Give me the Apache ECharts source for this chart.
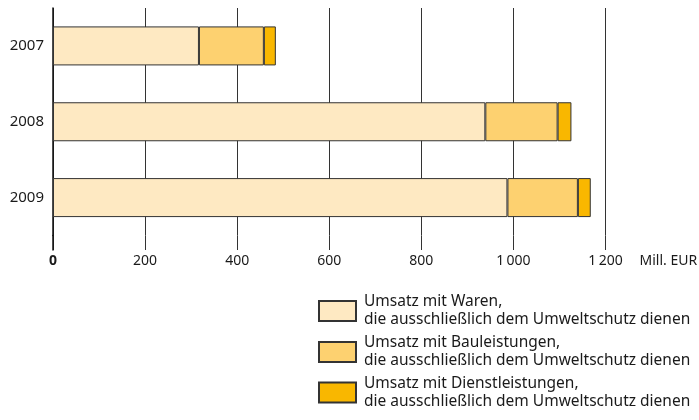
<!DOCTYPE html>
<html>
<head>
<meta charset="utf-8">
<script src="https://cdn.jsdelivr.net/npm/echarts@6/dist/echarts.min.js"></script>
<style>
  html, body { margin: 0; padding: 0; background: #fff; }
  #chart { width: 699px; height: 420px; }
</style>
</head>
<body>
<div id="chart"></div>
<script>
// Umsatz mit Umweltschutzgütern und -leistungen, Mill. EUR
const years = ['2007', '2008', '2009'];
const waren = [317, 939, 987];
const bauleistungen = [141, 157, 153];
const dienstleistungen = [26, 30, 28];
const seriesNames = [
  'Umsatz mit Waren,\ndie ausschließlich dem Umweltschutz dienen',
  'Umsatz mit Bauleistungen,\ndie ausschließlich dem Umweltschutz dienen',
  'Umsatz mit Dienstleistungen,\ndie ausschließlich dem Umweltschutz dienen'
];
const colors = ['#FEE9C2', '#FDD170', '#F9B700'];

const font = '"Noto Sans", "Open Sans", sans-serif';
const chart = echarts.init(document.getElementById('chart'), null, { renderer: 'canvas' });

function fmt(v) {
  if (v === 0) return '{b|0}';
  return String(v).replace(/\B(?=(\d{3})+(?!\d))/g, '\u2009');
}

const valueSets = [waren, bauleistungen, dienstleistungen];
const legendTops = [284, 325, 365.5];

chart.setOption({
  animation: false,
  textStyle: { fontFamily: font },
  grid: [
    // plot area
    { left: 53, right: 93.5, top: 8, height: 227.5, containLabel: false, outerBoundsMode: 'none' },
    // strip below the plot carrying the downward tick extensions
    { left: 53, right: 93.5, top: 235.5, height: 14.5, containLabel: false, outerBoundsMode: 'none' }
  ],
  xAxis: [
    {
      type: 'value', gridIndex: 0,
      min: 0, max: 1200, interval: 200,
      axisLine: { show: false },
      axisTick: { show: false },
      splitLine: { show: true, lineStyle: { color: '#333', width: 1 } },
      axisLabel: {
        margin: 19, color: '#1a1a1a', fontSize: 14, fontFamily: font,
        formatter: fmt,
        rich: { b: { fontWeight: 'bold', fontSize: 14, color: '#1a1a1a', fontFamily: font } }
      },
      name: 'Mill. EUR',
      nameLocation: 'end',
      nameGap: 34,
      nameTextStyle: { color: '#1a1a1a', fontSize: 14, fontFamily: font, verticalAlign: 'top', padding: [19, 0, 0, 0] }
    },
    {
      type: 'value', gridIndex: 1,
      min: 0, max: 1200, interval: 200,
      axisLine: { show: false },
      axisTick: { show: false },
      axisLabel: { show: false },
      splitLine: { show: true, lineStyle: { color: '#333', width: 1 } }
    }
  ],
  yAxis: [
    {
      type: 'category', gridIndex: 0,
      data: years,
      inverse: true,
      axisLine: { show: true, lineStyle: { color: '#111', width: 1.5 } },
      axisTick: { show: false },
      axisLabel: { margin: 9, color: '#1a1a1a', fontSize: 15, fontFamily: font }
    },
    {
      type: 'category', gridIndex: 1,
      data: [''],
      axisLine: { show: true, lineStyle: { color: '#111', width: 1.5 } },
      axisTick: { show: false },
      axisLabel: { show: false }
    }
  ],
  legend: seriesNames.map((name, i) => ({
    orient: 'vertical',
    left: 318, top: legendTops[i],
    padding: 0,
    itemWidth: 37, itemHeight: 20,
    icon: 'rect',
    selectedMode: false,
    textStyle: { color: '#1a1a1a', fontSize: 15.5, lineHeight: 18, fontFamily: font, padding: [18, 0, 0, 3] },
    data: [name]
  })),
  series: seriesNames.map((name, i) => ({
    name: name,
    type: 'bar',
    stack: 'total',
    xAxisIndex: 0, yAxisIndex: 0,
    barWidth: 39,
    data: valueSets[i],
    itemStyle: { color: colors[i], borderColor: '#333', borderWidth: 1 }
  }))
});
</script>
</body>
</html>
